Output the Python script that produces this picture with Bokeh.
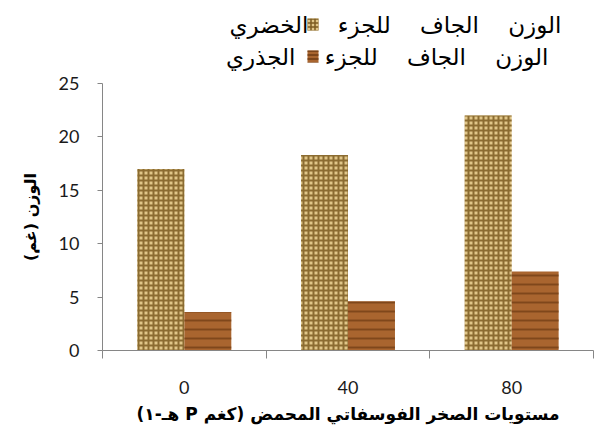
from bokeh.plotting import figure
from bokeh.layouts import column
from bokeh.models import Range1d, FixedTicker, Label, BoxAnnotation, ColumnDataSource
from bokeh.embed import file_html
from bokeh.resources import INLINE
import numpy as np

categories = ["0", "40", "80"]
shoot_dry = [17.0, 18.3, 22.0]
root_dry = [3.6, 4.6, 7.4]
series_names = ["الوزن الجاف للجزء الخضري", "الوزن الجاف للجزء الجذري"]
y_ticks = [0, 5, 10, 15, 20, 25]

RLE, PDF = "\u202b", "\u202c"
x_title = RLE + "مستويات الصخر الفوسفاتي المحمض (كغم P هـ-١)" + PDF
y_title = RLE + "الوزن (غم)" + PDF

ar_font = "DejaVu Sans"
num_font = "Lato"

idx = np.arange(len(categories)) + 0.5
bw = 0.287

shoot_style = dict(fill_color="#e0c688", hatch_pattern="+", hatch_color="#7d5c22")
root_style = dict(fill_color="#a9652f", hatch_pattern="-", hatch_color="#6e3a12")

p = figure(width=598, height=370, output_backend="svg", toolbar_location=None,
           x_range=Range1d(0, len(categories)), y_range=Range1d(0, 25),
           min_border_left=102, min_border_right=5, min_border_top=11, min_border_bottom=92)
p.outline_line_color = None
p.grid.grid_line_color = None

src_s = ColumnDataSource(dict(x=idx - bw / 2, top=shoot_dry))
src_r = ColumnDataSource(dict(x=idx + bw / 2, top=root_dry))

p.vbar(x="x", top="top", width=bw, source=src_s, line_color=None,
       hatch_scale=5, hatch_weight=2, hatch_alpha=0.85, **shoot_style)
p.vbar(x="x", top="top", width=bw, source=src_r, line_color=None,
       hatch_scale=9, hatch_weight=2, hatch_alpha=0.7, **root_style)

# x axis
xa = p.xaxis[0]
xa.ticker = FixedTicker(ticks=list(idx), minor_ticks=list(range(len(categories) + 1)))
xa.major_label_overrides = {float(v): c for v, c in zip(idx, categories)}
xa.major_tick_line_color = None
xa.major_tick_out = 0
xa.major_tick_in = 0
xa.minor_tick_out = 8
xa.minor_tick_in = 0
xa.minor_tick_line_color = "#868686"
xa.axis_line_color = "#868686"
xa.major_label_standoff = 22
xa.major_label_text_font = num_font
xa.major_label_text_font_size = "18px"
xa.major_label_text_color = "#1a1a1a"
xa.axis_label = x_title
xa.axis_label_text_font = ar_font
xa.axis_label_text_font_style = "bold"
xa.axis_label_text_font_size = "17px"
xa.axis_label_text_color = "black"
xa.axis_label_standoff = 7

# y axis
ya = p.yaxis[0]
ya.ticker = FixedTicker(ticks=y_ticks)
ya.minor_tick_line_color = None
ya.major_tick_out = 5
ya.major_tick_in = 0
ya.major_tick_line_color = "#868686"
ya.axis_line_color = "#868686"
ya.major_label_standoff = 18
ya.major_label_text_font = num_font
ya.major_label_text_font_size = "18px"
ya.major_label_text_color = "#1a1a1a"
ya.axis_label = y_title
ya.axis_label_text_font = ar_font
ya.axis_label_text_font_style = "bold"
ya.axis_label_text_font_size = "16px"
ya.axis_label_text_color = "black"
ya.axis_label_standoff = 16

# legend strip above the chart (swatch on the left, text to its right)
gap = "\u00a0" * 4
lg = figure(width=598, height=72, output_backend="svg", toolbar_location=None,
            x_axis_type=None, y_axis_type=None, min_border=0,
            x_range=Range1d(0, 1), y_range=Range1d(0, 1))
lg.outline_line_color = None
lg.grid.visible = False
text_right = [459, 446]
for i, (name, st) in enumerate(zip(series_names, [shoot_style, root_style])):
    cy = 48 - i * 32  # screen units from the bottom of the strip
    lg.add_layout(BoxAnnotation(left=205, right=216, bottom=cy - 6, top=cy + 6,
                                left_units="screen", right_units="screen",
                                top_units="screen", bottom_units="screen",
                                line_color=None, fill_alpha=1, hatch_alpha=1,
                                hatch_scale=4, hatch_weight=1.5, **st))
    lg.add_layout(Label(x=text_right[i], y=cy, x_units="screen", y_units="screen",
                        text=name.replace(" ", gap),
                        text_align="right", text_baseline="middle", text_font=ar_font,
                        text_font_size="23px", text_color="black"))

layout = column(lg, p, spacing=0)
open("out.html", "w").write(file_html(layout, INLINE))
